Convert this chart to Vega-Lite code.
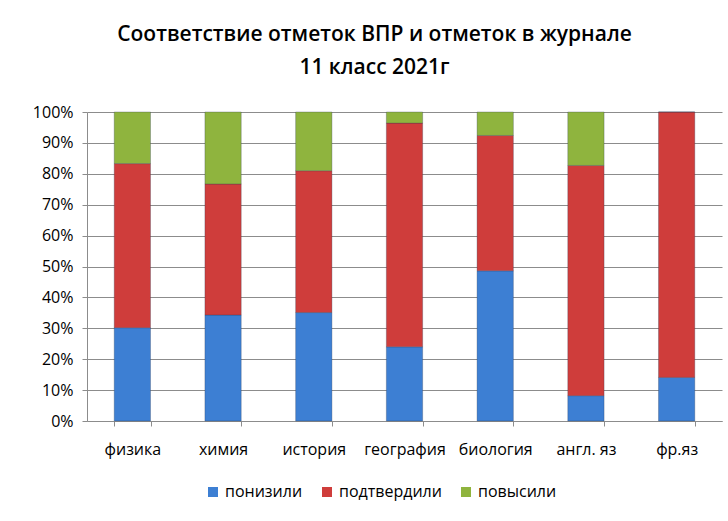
{
  "$schema": "https://vega.github.io/schema/vega-lite/v6.json",
  "width": 635,
  "height": 309,
  "autosize": "none",
  "padding": {"left": 87, "top": 112, "right": 6, "bottom": 100},
  "background": "white",
  "title": {
    "text": ["Соответствие отметок ВПР и отметок в журнале", "11 класс 2021г"],
    "font": "Open Sans",
    "fontSize": 21,
    "fontWeight": 600,
    "color": "#000000",
    "anchor": "middle",
    "dx": -30,
    "offset": 26,
    "lineHeight": 33
  },
  "data": {
    "values": [
      {"subj": "физика", "s": "понизили", "k": 1, "v": 30.2},
      {"subj": "физика", "s": "подтвердили", "k": 2, "v": 53.1},
      {"subj": "физика", "s": "повысили", "k": 3, "v": 16.7},
      {"subj": "химия", "s": "понизили", "k": 1, "v": 34.3},
      {"subj": "химия", "s": "подтвердили", "k": 2, "v": 42.4},
      {"subj": "химия", "s": "повысили", "k": 3, "v": 23.3},
      {"subj": "история", "s": "понизили", "k": 1, "v": 35.1},
      {"subj": "история", "s": "подтвердили", "k": 2, "v": 45.9},
      {"subj": "история", "s": "повысили", "k": 3, "v": 19.0},
      {"subj": "география", "s": "понизили", "k": 1, "v": 24.0},
      {"subj": "география", "s": "подтвердили", "k": 2, "v": 72.4},
      {"subj": "география", "s": "повысили", "k": 3, "v": 3.6},
      {"subj": "биология", "s": "понизили", "k": 1, "v": 48.6},
      {"subj": "биология", "s": "подтвердили", "k": 2, "v": 43.8},
      {"subj": "биология", "s": "повысили", "k": 3, "v": 7.6},
      {"subj": "англ. яз", "s": "понизили", "k": 1, "v": 8.2},
      {"subj": "англ. яз", "s": "подтвердили", "k": 2, "v": 74.5},
      {"subj": "англ. яз", "s": "повысили", "k": 3, "v": 17.3},
      {"subj": "фр.яз", "s": "понизили", "k": 1, "v": 14.1},
      {"subj": "фр.яз", "s": "подтвердили", "k": 2, "v": 85.9},
      {"subj": "фр.яз", "s": "повысили", "k": 3, "v": 0}
    ]
  },
  "mark": {"type": "bar", "stroke": "#2a3a55", "strokeWidth": 0.5, "strokeOpacity": 0.6},
  "encoding": {
    "x": {
      "field": "subj",
      "type": "nominal",
      "sort": null,
      "scale": {"paddingInner": 0.6, "paddingOuter": 0.3},
      "axis": {
        "title": null,
        "labelAngle": 0,
        "labelFont": "Open Sans",
        "labelFontSize": 16,
        "labelColor": "#000000",
        "labelPadding": 15,
        "tickBand": "extent",
        "tickSize": 5,
        "tickColor": "#8c8c8c",
        "domainColor": "#8c8c8c",
        "grid": false
      }
    },
    "y": {
      "field": "v",
      "type": "quantitative",
      "stack": "normalize",
      "scale": {"domain": [0, 1], "nice": false},
      "axis": {
        "title": null,
        "format": ".0%",
        "values": [0, 0.1, 0.2, 0.3, 0.4, 0.5, 0.6, 0.7, 0.8, 0.9, 1],
        "labelFont": "Open Sans",
        "labelFontSize": 16,
        "labelColor": "#000000",
        "labelPadding": 9,
        "tickSize": 5,
        "tickColor": "#8c8c8c",
        "domainColor": "#8c8c8c",
        "gridColor": "#8c8c8c",
        "gridWidth": 1
      }
    },
    "color": {
      "field": "s",
      "type": "nominal",
      "sort": ["понизили", "подтвердили", "повысили"],
      "scale": {
        "domain": ["понизили", "подтвердили", "повысили"],
        "range": ["#3d7fd3", "#cf3d3b", "#8fb43e"]
      },
      "legend": {
        "title": null,
        "orient": "none",
        "direction": "horizontal",
        "legendX": 118,
        "legendY": 372,
        "symbolType": "square",
        "symbolSize": 100,
        "symbolStrokeWidth": 0,
        "labelFont": "Open Sans",
        "labelFontSize": 16,
        "labelColor": "#000000",
        "columnPadding": 16,
        "labelOffset": 4
      }
    },
    "order": {"field": "k", "type": "quantitative"}
  },
  "config": {
    "view": {"stroke": null}
  }
}
